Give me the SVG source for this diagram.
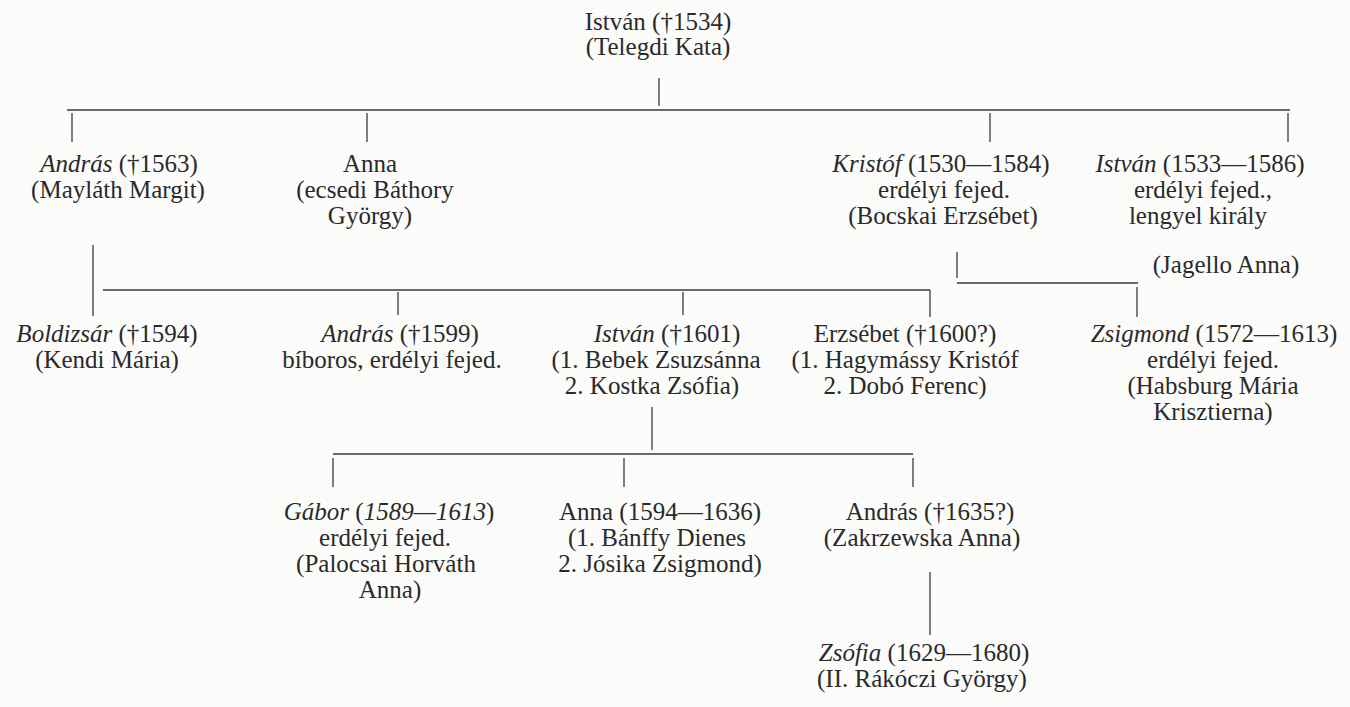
<svg xmlns="http://www.w3.org/2000/svg" width="1350" height="707" viewBox="0 0 1350 707">
<style>
text{font-family:"Liberation Serif","DejaVu Serif",serif;font-size:25px;fill:#2a2a2a;text-anchor:middle}
.i{font-style:italic}
#connectors line{stroke:#3a3a3a;stroke-width:1.3}
</style>
<rect width="1350" height="707" fill="#fbfbf9"/>
<g id="connectors">
<line x1="659" y1="78" x2="659" y2="106"/>
<line x1="67" y1="110" x2="1290" y2="110"/>
<line x1="72" y1="113" x2="72" y2="142"/>
<line x1="367" y1="113" x2="367" y2="142"/>
<line x1="990" y1="113" x2="990" y2="142"/>
<line x1="1288" y1="113" x2="1288" y2="142"/>
<line x1="93" y1="245" x2="93" y2="316"/>
<line x1="103" y1="290" x2="930" y2="290"/>
<line x1="398" y1="292" x2="398" y2="315"/>
<line x1="683" y1="292" x2="683" y2="315"/>
<line x1="930" y1="290" x2="930" y2="317"/>
<line x1="957" y1="252" x2="957" y2="278"/>
<line x1="957" y1="283" x2="1138" y2="283"/>
<line x1="1137" y1="287" x2="1137" y2="317"/>
<line x1="652" y1="407" x2="652" y2="450"/>
<line x1="333" y1="454" x2="913" y2="454"/>
<line x1="333" y1="458" x2="333" y2="487"/>
<line x1="624" y1="458" x2="624" y2="487"/>
<line x1="913" y1="458" x2="913" y2="487"/>
<line x1="930" y1="572" x2="930" y2="635"/>
</g>
<g id="n-istvan1534"><text x="658" y="30">István (†1534)</text><text x="658" y="55">(Telegdi Kata)</text></g>
<g id="n-andras1563"><text x="119" y="172"><tspan class="i">András</tspan> (†1563)</text><text x="118" y="198">(Mayláth Margit)</text></g>
<g id="n-anna"><text x="370" y="172">Anna</text><text x="375" y="198">(ecsedi Báthory</text><text x="370" y="224">György)</text></g>
<g id="n-kristof"><text x="941" y="172"><tspan class="i">Kristóf</tspan> (1530—1584)</text><text x="944" y="198">erdélyi fejed.</text><text x="943" y="224">(Bocskai Erzsébet)</text></g>
<g id="n-istvan1533"><text x="1200" y="172"><tspan class="i">István</tspan> (1533—1586)</text><text x="1203" y="198">erdélyi fejed.,</text><text x="1198" y="224">lengyel király</text><text x="1226" y="273">(Jagello Anna)</text></g>
<g id="n-boldizsar"><text x="107" y="342"><tspan class="i">Boldizsár</tspan> (†1594)</text><text x="107" y="368">(Kendi Mária)</text></g>
<g id="n-andras1599"><text x="400" y="342"><tspan class="i">András</tspan> (†1599)</text><text x="392" y="368">bíboros, erdélyi fejed.</text></g>
<g id="n-istvan1601"><text x="667" y="342"><tspan class="i">István</tspan> (†1601)</text><text x="656" y="368">(1. Bebek Zsuzsánna</text><text x="652" y="394">2. Kostka Zsófia)</text></g>
<g id="n-erzsebet"><text x="905" y="342">Erzsébet (†1600?)</text><text x="905" y="368">(1. Hagymássy Kristóf</text><text x="905" y="394">2. Dobó Ferenc)</text></g>
<g id="n-zsigmond"><text x="1214" y="342"><tspan class="i">Zsigmond</tspan> (1572—1613)</text><text x="1213" y="368">erdélyi fejed.</text><text x="1213" y="394">(Habsburg Mária</text><text x="1213" y="420">Krisztierna)</text></g>
<g id="n-gabor"><text x="389" y="520"><tspan class="i">Gábor</tspan> (<tspan class="i">1589—1613</tspan>)</text><text x="385" y="546">erdélyi fejed.</text><text x="386" y="572">(Palocsai Horváth</text><text x="390" y="598">Anna)</text></g>
<g id="n-anna1594"><text x="660" y="520">Anna (1594—1636)</text><text x="657" y="546">(1. Bánffy Dienes</text><text x="660" y="572">2. Jósika Zsigmond)</text></g>
<g id="n-andras1635"><text x="930" y="520">András (†1635?)</text><text x="922" y="546">(Zakrzewska Anna)</text></g>
<g id="n-zsofia"><text x="924" y="661"><tspan class="i">Zsófia</tspan> (1629—1680)</text><text x="922" y="687">(II. Rákóczi György)</text></g>
</svg>
